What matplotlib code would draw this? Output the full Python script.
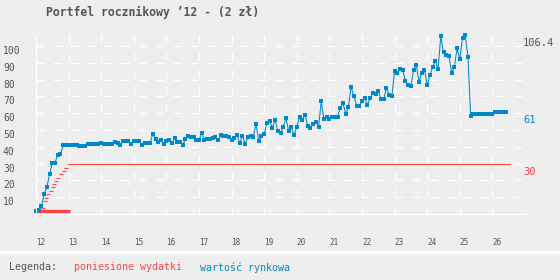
import numpy as np
import matplotlib
matplotlib.use("Agg")
from matplotlib import pyplot as plt
from matplotlib.lines import Line2D

plt.rcParams['font.family'] = ['DejaVu Sans Mono']
plt.rcParams['lines.scale_dashes'] = False

TLO = '#eeeeee'
NIEBIESKI = '#0088cc'
CZERWONY = '#ff4444'
SZARY = '#555555'

tytul = "Portfel rocznikowy \u201912 - (2 z\u0142)"

# wartosc rynkowa - kolejne miesiace od poczatku '12
wartosc = [
    2.0, 2.4, 4.8, 11.8, 16.0, 23.8, 30.4, 30.6, 35.0, 35.7, 41.0, 41.1,
    41.1, 41.1, 40.8, 40.8, 40.5, 40.5, 40.5, 41.9, 41.9, 41.9, 41.9, 41.9,
    42.3, 41.7, 41.7, 41.7, 41.7, 42.8, 42.3, 41.3, 43.5, 43.5, 43.5, 41.7,
    43.5, 43.5, 43.5, 41.1, 42.3, 42.3, 42.3, 47.7, 44.7, 42.7, 44.1, 41.7,
    43.7, 44.1, 42.1, 45.3, 42.7, 42.7, 41.1, 44.7, 46.7, 46.1, 46.1, 44.1,
    44.1, 48.3, 44.1, 44.7, 44.7, 45.2, 45.7, 44.1, 47.1, 46.7, 46.7, 45.7,
    44.1, 45.1, 47.1, 42.1, 46.7, 41.7, 46.1, 46.7, 46.1, 53.7, 43.3, 46.7,
    47.7, 54.3, 55.1, 51.5, 55.8, 49.3, 48.0, 52.0, 57.0, 49.4, 51.6, 47.0,
    52.0, 57.6, 56.0, 59.0, 52.6, 51.0, 53.4, 55.0, 51.6, 67.0, 56.4, 58.0,
    56.4, 57.6, 58.0, 58.0, 63.0, 66.0, 59.6, 63.6, 75.6, 70.4, 64.4, 64.4,
    67.0, 69.0, 65.0, 69.0, 72.0, 71.4, 73.4, 68.4, 68.4, 75.0, 71.0, 70.4,
    85.0, 84.0, 86.6, 85.6, 79.0, 76.6, 76.0, 86.0, 88.6, 78.6, 84.2, 86.0,
    76.6, 82.6, 87.6, 91.0, 86.6, 105.8, 96.2, 94.6, 94.0, 84.0, 87.6, 98.6,
    92.0, 105.0, 106.4, 93.6, 58.2, 59.6, 59.6, 59.6, 59.6, 59.6, 59.6, 59.6,
    59.6, 61.0, 61.0, 61.0, 61.0, 61.0,
]
rok_startu = 12

# poniesione wydatki w okresie wplat
wydatki_lata = [12.23, 12.28, 12.31, 12.38, 12.45, 12.51, 12.56, 12.62, 12.68, 12.78, 12.86, 12.92]
wydatki = [3.4, 7.8, 9.4, 11.8, 13.4, 16.2, 17.8, 19.4, 21.4, 23.8, 25.4, 27.4]
wydatki_razem = 30
wydatki_okres = [12.98, 26.55]
oplata_okres = [12.0, 13.03]
oplata_poziom = 1.6

lata_ticks = list(range(12, 27))
y_ticks = list(range(10, 101, 10))
max_wartosc = 106.4
ostatnia_wartosc = 61

lata = rok_startu + np.arange(len(wartosc)) / 12

fig = plt.figure(figsize=(5.6, 2.8), dpi=100, facecolor=TLO)
ax = fig.add_axes([36 / 560, 66 / 280, 489 / 560, 178.7 / 280])
ax.set_facecolor(TLO)
ax.set_xlim(12, 27)
ax.set_ylim(0, max_wartosc)

ax.set_xticks(lata_ticks)
ax.set_yticks(y_ticks)
ax.grid(True, color='white', lw=0.75, ls=(0, (5.8, 6.5)))
ax.set_axisbelow(True)

for s in ['top', 'right']:
    ax.spines[s].set_visible(False)
for s in ['left', 'bottom']:
    ax.spines[s].set_color('white')
    ax.spines[s].set_linewidth(0.75)

ax.tick_params(axis='x', direction='out', length=2.3, width=0.75, color='white',
               labelsize=5.5, labelcolor=SZARY, pad=15)
ax.tick_params(axis='y', length=0, labelsize=7, labelcolor=SZARY, pad=23.8)
for lab in ax.get_xticklabels():
    lab.set_ha('left')
for lab in ax.get_yticklabels():
    lab.set_ha('left')
    lab.set_va('top')

# wydatki
ax.plot(oplata_okres, [oplata_poziom] * 2, color=CZERWONY, lw=2.4, solid_capstyle='butt')
ax.plot(wydatki_okres, [wydatki_razem] * 2, color=CZERWONY, lw=0.75)
ax.plot(wydatki_lata, wydatki, ls='none', marker='_', ms=2.5, mew=0.8, color=CZERWONY)

# wartosc rynkowa
ax.plot(lata, wartosc, color=NIEBIESKI, lw=0.75, marker='s', ms=2.3, mew=0, clip_on=False)

# opisy po prawej
for val, kolor, txt in [(max_wartosc, SZARY, "106.4"),
                        (ostatnia_wartosc, NIEBIESKI, "61"),
                        (wydatki_razem, CZERWONY, "30")]:
    ax.annotate(txt, xy=(1, val), xycoords=('axes fraction', 'data'),
                xytext=(-2, -3), textcoords='offset pixels',
                ha='left', va='top', fontsize=7.5, color=kolor, annotation_clip=False)

fig.text(46 / 560, 1 - 12.5 / 280, tytul, ha='left', va='center',
         fontsize=8.3, weight='bold', color=SZARY)

fig.add_artist(Line2D([0, 1], [1 - 251.7 / 280] * 2, transform=fig.transFigure,
                      color='white', lw=2.4))

y_leg = 1 - 267.5 / 280
fig.text(9 / 560, y_leg, "Legenda:", ha='left', va='center', fontsize=7.2, color=SZARY)
fig.text(74 / 560, y_leg, "poniesione wydatki", ha='left', va='center', fontsize=7.2, color=CZERWONY)
fig.text(200 / 560, y_leg, "warto\u015b\u0107 rynkowa", ha='left', va='center', fontsize=7.2, color=NIEBIESKI)

fig.savefig('out.png', dpi=100, facecolor=TLO)
